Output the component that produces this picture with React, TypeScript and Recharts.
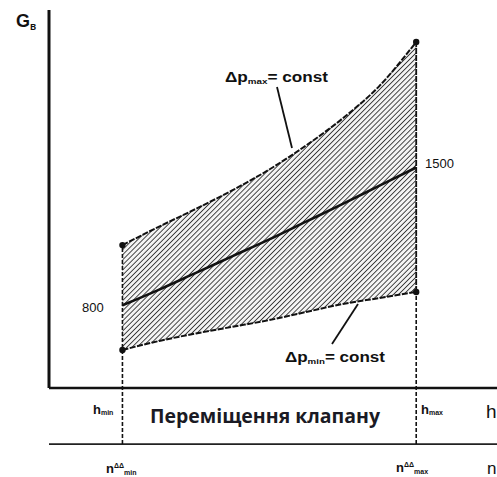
import React from 'react';
import { ComposedChart, Area, Line, XAxis, YAxis, ReferenceLine } from 'recharts';

// valve position (hmin = 1 ... hmax = 5)
const positions = [1, 1.5, 2, 2.5, 3, 3.5, 4, 4.5, 5];
// flow at Δp max = const (upper edge)
const upperFlow = [1106, 1200, 1290, 1385, 1490, 1612, 1750, 1915, 2138];
// nominal flow curve
const middleFlow = [800, 880, 965, 1050, 1135, 1225, 1315, 1408, 1500];
// flow at Δp min = const (lower edge)
const lowerFlow = [573, 619, 657, 691, 725, 766, 807, 837, 868];

const X_DOMAIN = [0, 6.1];
const Y_DOMAIN = [380, 2290];
const N_AXIS_Y = 95; // second (speed) axis sits below the chart

const data = positions.map((x, i) => ({
  x,
  band: [lowerFlow[i], upperFlow[i]],
  upper: upperFlow[i],
  middle: middleFlow[i],
  lower: lowerFlow[i],
}));

const last = positions.length - 1;

const EndDot = (props: any) => {
  const { cx, cy, index } = props;
  if (index !== 0 && index !== last) return <g key={`d${index}`} />;
  return <circle key={`d${index}`} cx={cx} cy={cy} r={3.2} fill="#111" />;
};

const font = '"Liberation Sans", Arial, sans-serif';

export default function App() {
  return (
    <div style={{ position: 'absolute', left: 0, top: 0, width: 497, height: 477, background: '#fff' }}>
      <ComposedChart
        width={497}
        height={477}
        data={data}
        margin={{ top: 12, right: 0, left: 49, bottom: 89 }}
      >
        <defs>
          <pattern id="hatch" width="3.6" height="3.6" patternUnits="userSpaceOnUse" patternTransform="rotate(45)">
            <rect width="3.6" height="3.6" fill="#f4f4f4" />
            <line x1="0" y1="0" x2="0" y2="3.6" stroke="#2a2a2a" strokeWidth={1.7} />
          </pattern>
        </defs>
        <XAxis dataKey="x" type="number" domain={X_DOMAIN} hide />
        <YAxis type="number" domain={Y_DOMAIN} hide />

        <Area
          dataKey="band"
          type="monotone"
          fill="url(#hatch)"
          fillOpacity={1}
          stroke="none"
          isAnimationActive={false}
        />

        {/* axes */}
        <ReferenceLine
          segment={[{ x: 0, y: Y_DOMAIN[0] }, { x: 0, y: Y_DOMAIN[1] + 10 }]}
          stroke="#111"
          strokeWidth={3}
          ifOverflow="visible"
        />
        <ReferenceLine y={Y_DOMAIN[0]} stroke="#111" strokeWidth={2.5} ifOverflow="visible" />
        <ReferenceLine y={N_AXIS_Y} stroke="#222" strokeWidth={1.6} ifOverflow="visible" />

        {/* limits of valve travel */}
        <ReferenceLine
          segment={[{ x: positions[0], y: N_AXIS_Y }, { x: positions[0], y: upperFlow[0] }]}
          stroke="#111"
          strokeWidth={1.6}
          strokeDasharray="4 2"
          ifOverflow="visible"
        />
        <ReferenceLine
          segment={[{ x: positions[last], y: N_AXIS_Y }, { x: positions[last], y: lowerFlow[last] }]}
          stroke="#111"
          strokeWidth={1.6}
          strokeDasharray="4 2"
          ifOverflow="visible"
        />
        <ReferenceLine
          segment={[{ x: positions[last], y: lowerFlow[last] }, { x: positions[last], y: upperFlow[last] }]}
          stroke="#111"
          strokeWidth={1.8}
          strokeDasharray="6 1"
          ifOverflow="visible"
        />

        <Line
          dataKey="upper"
          type="monotone"
          stroke="#111"
          strokeWidth={2}
          strokeDasharray="6 1.5"
          dot={EndDot}
          activeDot={false}
          isAnimationActive={false}
        />
        <Line
          dataKey="middle"
          type="monotone"
          stroke="#111"
          strokeWidth={2.6}
          dot={false}
          activeDot={false}
          isAnimationActive={false}
        />
        <Line
          dataKey="lower"
          type="monotone"
          stroke="#111"
          strokeWidth={2}
          strokeDasharray="6 1.5"
          dot={EndDot}
          activeDot={false}
          isAnimationActive={false}
        />

        {/* annotations */}
        <g fontFamily={font} fontWeight="bold" fill="#111">
          <text x={16} y={27} fontSize={18}>
            G<tspan fontSize={10} dy={3}>в</tspan>
          </text>

          <line x1={277} y1={87} x2={292} y2={148} stroke="#111" strokeWidth={1.8} />
          <text x={225} y={82} fontSize={14} textLength={103} lengthAdjust="spacingAndGlyphs">
            Δp<tspan fontSize={8} dy={2}>max</tspan><tspan dy={-2}>= const</tspan>
          </text>

          <line x1={358} y1={304} x2={332} y2={344} stroke="#111" strokeWidth={1.8} />
          <text x={285} y={362} fontSize={14} textLength={100} lengthAdjust="spacingAndGlyphs">
            Δp<tspan fontSize={8} dy={2}>min</tspan><tspan dy={-2}>= const</tspan>
          </text>

          <text x={425} y={168} fontSize={13} fontWeight="normal">1500</text>
          <text x={82} y={312} fontSize={13} fontWeight="normal">800</text>

          <text x={93} y={414} fontSize={13}>
            h<tspan fontSize={7} dy={1}>min</tspan>
          </text>
          <text x={421} y={414} fontSize={13}>
            h<tspan fontSize={7} dy={1}>max</tspan>
          </text>
          <text x={486} y={418} fontSize={19} fontWeight="normal">h</text>

          <text x={106} y={473} fontSize={13}>
            n<tspan fontSize={7} dy={-5}>ΔΔ</tspan><tspan fontSize={7} dy={7}>min</tspan>
          </text>
          <text x={396} y={472} fontSize={13}>
            n<tspan fontSize={7} dy={-5}>ΔΔ</tspan><tspan fontSize={7} dy={7}>max</tspan>
          </text>
          <text x={487} y={474} fontSize={17} fontWeight="normal">n</text>
        </g>

        <text
          x={150}
          y={423}
          fontFamily='"Open Sans", "Noto Sans", sans-serif'
          fontWeight="bold"
          fontSize={20}
          textLength={230}
          lengthAdjust="spacingAndGlyphs"
          fill="#1a1a24"
        >
          Переміщення клапану
        </text>
      </ComposedChart>
    </div>
  );
}
